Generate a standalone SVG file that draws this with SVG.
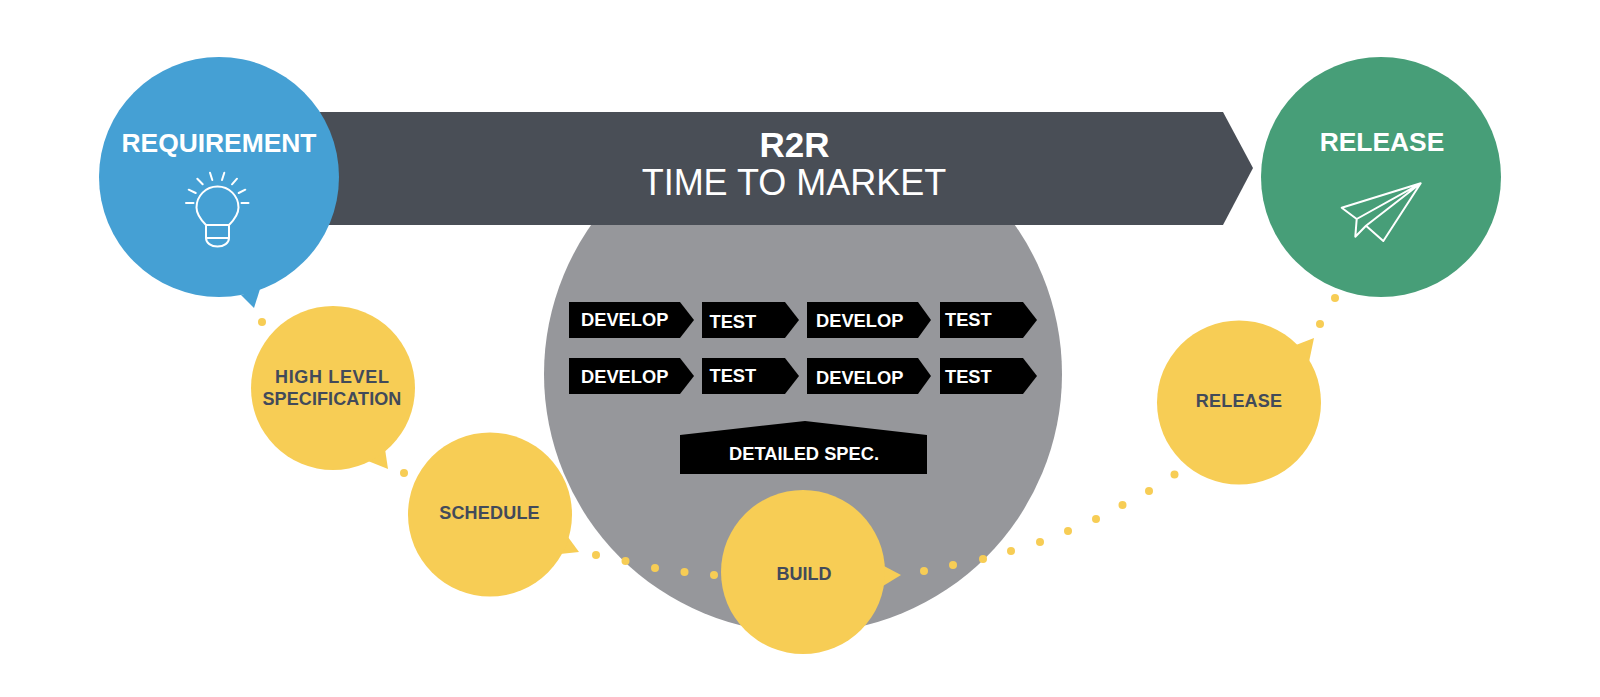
<svg xmlns="http://www.w3.org/2000/svg" width="1600" height="697" viewBox="0 0 1600 697">
<style>
text{font-family:"Liberation Sans",Arial,sans-serif;text-anchor:middle}
.big{font-size:26.400px;font-weight:700;fill:#fff}
.k{fill:#000}
.w{font-size:18.300px;font-weight:700;fill:#fff;text-anchor:start}
.y{fill:#f7cd55}
.d{font-size:18px;font-weight:700;fill:#424a5a}
.ic{fill:none;stroke:#fff;stroke-width:2;stroke-linecap:round;stroke-linejoin:round}
</style>
<rect width="1600" height="697" fill="#fff"/>
<g id="spiral"><circle cx="803" cy="374" r="259" fill="#96979b"/></g>
<g id="r2r">
<polygon points="300,112 1223,112 1253,168 1223,225 300,225" fill="#494e56"/>
<text x="794.500" y="156.500" style="font-size:35px;font-weight:700" fill="#fff">R2R</text>
<text x="794" y="195" style="font-size:36px" fill="#fff">TIME TO MARKET</text>
</g>
<g id="requirement">
<polygon points="241,295 254,308 260,289" fill="#45a0d4"/>
<circle cx="219" cy="177" r="120" fill="#45a0d4"/>
<text x="219" y="152" class="big">REQUIREMENT</text>
<path class="ic" d="M206,225 C200,219 196.500,214 196.500,207.500 A21,21 0 0 1 238.500,207.500 C238.500,214 235,219 229,225 Z M206,225 V238 C206,243 211,246.500 217.500,246.500 C224,246.500 229,243 229,238 V225 M206,238 H229 M186,203 H193.500 M241.500,203 H248.500 M188.700,189.700 L195.700,193 M245.300,189.700 L238.700,193 M197.300,178.700 L202.700,184.300 M237,178.700 L232,184.300 M210,172.700 L212.300,180 M224.300,172.700 L222,180"/>
</g>
<g id="release-goal">
<circle cx="1381" cy="177" r="120" fill="#479e78"/>
<text x="1382" y="151" class="big">RELEASE</text>
<path class="ic" d="M1420.700,183.300 L1341.700,207.700 L1356.700,219 Z M1356.700,219 L1355.300,236.700 L1366,225.700 L1383.300,241 L1420.700,183.300 L1366,225.700"/>
</g>
<g id="connectors">
<g class="y">
<circle cx="262" cy="322" r="4"/><circle cx="404" cy="473" r="4"/><circle cx="596" cy="555" r="4"/><circle cx="625.500" cy="561" r="4"/><circle cx="655" cy="568" r="4"/><circle cx="684.500" cy="572" r="4"/><circle cx="714" cy="575" r="4"/><circle cx="924" cy="571" r="4"/><circle cx="953" cy="565" r="4"/><circle cx="983" cy="559" r="4"/><circle cx="1011" cy="551" r="4"/><circle cx="1040" cy="542" r="4"/><circle cx="1068" cy="531" r="4"/><circle cx="1096" cy="519" r="4"/><circle cx="1122.500" cy="505" r="4"/><circle cx="1149" cy="491" r="4"/><circle cx="1174.500" cy="474.500" r="4"/><circle cx="1320" cy="324" r="4"/><circle cx="1335" cy="298" r="4"/>
</g>
</g>
<g id="high-level-spec">
<polygon class="y" points="368,461 388,469 385,449"/>
<circle class="y" cx="333" cy="388" r="82"/>
<text x="332.300" y="382.500" class="d" style="letter-spacing:.65px">HIGH LEVEL</text>
<text x="332" y="405" class="d" style="letter-spacing:.1px">SPECIFICATION</text>
</g>
<g id="schedule">
<polygon class="y" points="568,537 579,552 560,554"/>
<circle class="y" cx="490" cy="514.500" r="82"/>
<text x="489.500" y="519" class="d" style="letter-spacing:.2px">SCHEDULE</text>
</g>
<g id="build">
<polygon class="y" points="884,566 901,575 883,586"/>
<circle class="y" cx="803" cy="572" r="82"/>
<text x="804" y="580" class="d">BUILD</text>
</g>
<g id="release-step">
<polygon class="y" points="1296,345 1314,338 1309,362"/>
<circle class="y" cx="1239" cy="402.500" r="82"/>
<text x="1239" y="407" class="d" style="letter-spacing:.2px">RELEASE</text>
</g>
<g id="dev-1"><polygon class="k" points="569,302 680,302 694,320 680,338 569,338"/><text class="w" x="581" y="326">DEVELOP</text></g>
<g id="test-1"><polygon class="k" points="702,302 785,302 799,320 785,338 702,338"/><text class="w" x="709.500" y="327.500">TEST</text></g>
<g id="dev-2"><polygon class="k" points="807,302 918,302 931,320 918,338 807,338"/><text class="w" x="816" y="327">DEVELOP</text></g>
<g id="test-2"><polygon class="k" points="940,302 1023,302 1037,320 1023,338 940,338"/><text class="w" x="945" y="326">TEST</text></g>
<g id="dev-3"><polygon class="k" points="569,358 680,358 694,376 680,394 569,394"/><text class="w" x="581" y="382.500">DEVELOP</text></g>
<g id="test-3"><polygon class="k" points="702,358 785,358 799,376 785,394 702,394"/><text class="w" x="709.500" y="382">TEST</text></g>
<g id="dev-4"><polygon class="k" points="807,358 918,358 931,376 918,394 807,394"/><text class="w" x="816" y="384">DEVELOP</text></g>
<g id="test-4"><polygon class="k" points="940,358 1023,358 1037,376 1023,394 940,394"/><text class="w" x="945" y="383">TEST</text></g>
<g id="detailed-spec"><polygon class="k" points="680,435 805,421 927,435 927,474 680,474"/><text class="w" x="729" y="460">DETAILED SPEC.</text></g>
</svg>
